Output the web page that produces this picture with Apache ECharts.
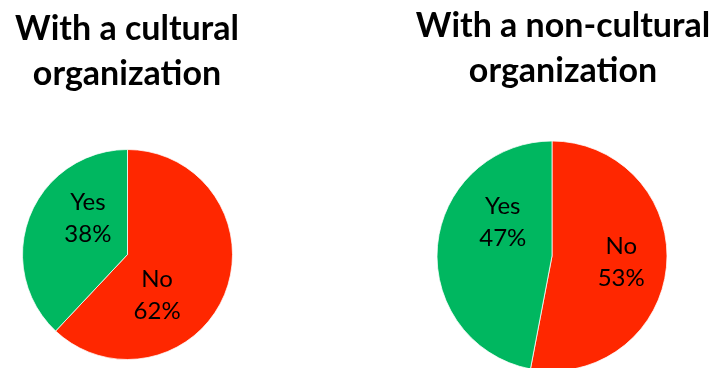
<!DOCTYPE html>
<html>
<head>
<meta charset="utf-8">
<script src="https://cdn.jsdelivr.net/npm/echarts@6/dist/echarts.min.js"></script>
<style>
  html, body { margin: 0; padding: 0; background: #ffffff; }
  #chart { width: 717px; height: 368px; }
</style>
</head>
<body>
<div id="chart"></div>
<script>
// Answer categories, in drawing order (clockwise from 12 o'clock)
const sliceNames = ['No', 'Yes'];
// Share of respondents (%) for each group
const culturalShares = [62, 38];
const nonCulturalShares = [53, 47];
const chartTitles = ['With a cultural\norganization', 'With a non-cultural\norganization'];

const sliceColors = ['#FF2700', '#00B760'];

const chart = echarts.init(document.getElementById('chart'), null, { renderer: 'canvas' });

function buildData(values) {
  return sliceNames.map((name, i) => ({
    name: name,
    value: values[i],
    itemStyle: { color: sliceColors[i] }
  }));
}

// Nudges for the in-slice labels, per slice
function shiftLabels(shifts) {
  return function (params) {
    const s = shifts[params.dataIndex];
    return { dx: s[0], dy: s[1] };
  };
}

function pieSeries(values, center, radius, shifts) {
  return {
    type: 'pie',
    center: center,
    radius: radius,
    startAngle: 90,
    clockwise: true,
    avoidLabelOverlap: false,
    silent: true,
    animation: false,
    itemStyle: { borderColor: '#ffffff', borderWidth: 0.75 },
    label: {
      show: true,
      position: 'inside',
      formatter: p => p.name + '\n' + p.value + '%',
      color: '#000000',
      fontFamily: 'Lato',
      fontSize: 24,
      lineHeight: 32,
      align: 'center',
      verticalAlign: 'middle'
    },
    labelLine: { show: false },
    labelLayout: shiftLabels(shifts),
    data: buildData(values)
  };
}

const titleStyle = {
  fontFamily: 'Lato',
  fontWeight: 'bold',
  fontSize: 34,
  lineHeight: 45,
  color: '#000000'
};

chart.setOption({
  backgroundColor: '#ffffff',
  animation: false,
  title: [
    { text: chartTitles[0], left: 127, top: 7, textAlign: 'center', textStyle: titleStyle, padding: 0 },
    { text: chartTitles[1], left: 563, top: 4, textAlign: 'center', textStyle: titleStyle, padding: 0 }
  ],
  series: [
    pieSeries(culturalShares, [127.5, 254.5], 105, [[-22, 20], [12, -16]]),
    pieSeries(nonCulturalShares, [552, 256], 115, [[9, 1], [11, -28]])
  ]
});
</script>
</body>
</html>
